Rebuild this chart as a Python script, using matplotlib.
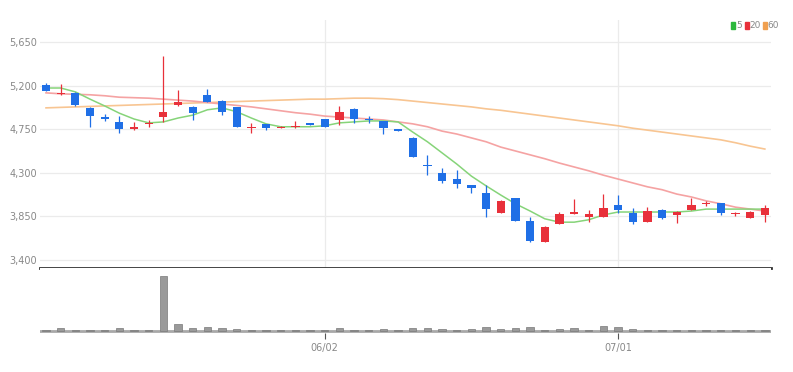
import matplotlib
matplotlib.use("Agg")
import matplotlib.pyplot as plt
import matplotlib.patches as mpatches
import numpy as np

# 일봉 (시가, 고가, 저가, 종가)
opens = [5205, 5110, 5125, 4970, 4880, 4825, 4750, 4805, 4875, 4995,
         4980, 5105, 5045, 4975, 4760, 4800, 4760, 4770, 4810, 4850,
         4845, 4960, 4850, 4835, 4750, 4655, 4375, 4295, 4235, 4175,
         4095, 3885, 4035, 3805, 3590, 3770, 3870, 3840, 3845, 3970,
         3885, 3795, 3915, 3860, 3915, 3980, 3985, 3875, 3830, 3865]
highs = [5225, 5215, 5135, 4980, 4905, 4890, 4825, 4845, 5505, 5155,
         4990, 5160, 5050, 4980, 4815, 4805, 4785, 4835, 4815, 4855,
         4985, 4970, 4890, 4835, 4750, 4670, 4485, 4350, 4330, 4175,
         4175, 4020, 4040, 3845, 3750, 3890, 4025, 3915, 4080, 4070,
         3935, 3950, 3925, 3905, 4035, 4010, 3990, 3900, 3905, 3970]
lows = [5140, 5100, 4990, 4775, 4835, 4710, 4745, 4775, 4825, 4990,
        4845, 5030, 4895, 4775, 4710, 4745, 4760, 4760, 4795, 4775,
        4795, 4815, 4810, 4700, 4730, 4465, 4275, 4190, 4145, 4090,
        3845, 3880, 3800, 3590, 3585, 3770, 3870, 3795, 3845, 3885,
        3770, 3790, 3825, 3780, 3915, 3960, 3865, 3855, 3830, 3795]
closes = [5145, 5125, 5000, 4885, 4855, 4750, 4775, 4815, 4930, 5035,
          4915, 5035, 4925, 4775, 4775, 4760, 4775, 4785, 4795, 4775,
          4930, 4855, 4845, 4760, 4735, 4465, 4365, 4215, 4180, 4145,
          3925, 4010, 3805, 3595, 3740, 3870, 3900, 3870, 3935, 3915,
          3795, 3905, 3830, 3900, 3970, 3990, 3885, 3885, 3900, 3935]
volumes = [75, 125, 75, 60, 60, 125, 60, 75, 2750, 350,
           125, 200, 125, 100, 60, 60, 60, 60, 60, 60,
           125, 60, 60, 100, 60, 125, 125, 100, 60, 100,
           200, 85, 125, 175, 60, 85, 125, 60, 250, 175,
           100, 60, 60, 60, 60, 60, 60, 30, 30, 60]

# 이동평균선
ma5 = [5175, 5175, 5135, 5060, 4990, 4915, 4855, 4815, 4825, 4865,
       4895, 4950, 4970, 4930, 4865, 4805, 4775, 4775, 4775, 4785,
       4815, 4825, 4835, 4835, 4825, 4720, 4620, 4505, 4390, 4265,
       4165, 4070, 3980, 3905, 3825, 3790, 3790, 3815, 3865, 3895,
       3895, 3895, 3895, 3895, 3905, 3925, 3925, 3925, 3925, 3925]
ma20 = [5125, 5115, 5110, 5105, 5095, 5080, 5075, 5070, 5060, 5050,
        5040, 5025, 5010, 4995, 4980, 4960, 4940, 4920, 4905, 4885,
        4875, 4865, 4855, 4845, 4825, 4805, 4775, 4730, 4700, 4660,
        4620, 4565, 4525, 4485, 4445, 4400, 4360, 4320, 4275, 4235,
        4195, 4155, 4125, 4080, 4050, 4010, 3980, 3945, 3925, 3905]
ma60 = [4970, 4975, 4980, 4985, 4990, 4995, 5000, 5005, 5010, 5015,
        5020, 5025, 5030, 5035, 5040, 5045, 5050, 5055, 5060, 5060,
        5065, 5070, 5070, 5065, 5055, 5040, 5025, 5010, 4995, 4980,
        4960, 4945, 4925, 4905, 4885, 4865, 4845, 4825, 4805, 4785,
        4760, 4740, 4720, 4700, 4680, 4660, 4640, 4610, 4575, 4545]

tick_pos = [19, 39]
tick_labels = ["06/02", "07/01"]
y_ticks = [3400, 3850, 4300, 4750, 5200, 5650]

RED = "#e8303a"
BLUE = "#1f6fe6"
FONT = ["Liberation Sans Narrow", "DejaVu Sans"]

W, H = 793, 372
fig = plt.figure(figsize=(W / 100, H / 100), dpi=100)
ax = fig.add_axes([40 / W, 1 - 268 / H, 731 / W, 248 / H])
axv = fig.add_axes([40 / W, 1 - 333 / H, 731 / W, 65 / H], sharex=ax)

x = np.arange(len(opens))
o = np.array(opens); c = np.array(closes)
up = c >= o
colors = np.where(up, RED, BLUE)

# 격자
for yv in y_ticks:
    ax.axhline(yv, color="#ebebeb", lw=0.9, zorder=0)
for t in tick_pos:
    ax.axvline(t, color="#ebebeb", lw=0.9, zorder=0)

ax.plot(x, ma60, color="#f8c592", lw=1.2, zorder=1)
ax.plot(x, ma20, color="#f5a3a3", lw=1.2, zorder=1)
ax.plot(x, ma5, color="#86d479", lw=1.1, zorder=1)

ax.vlines(x, lows, highs, colors=colors, lw=0.9, zorder=2)
body = np.maximum(np.abs(c - o), 12)
bottom = np.minimum(o, c)
ax.bar(x, body, bottom=bottom, width=0.56, color=colors, zorder=3)

ax.set_xlim(-0.41, 49.42)
ax.set_ylim(3317, 5877)
ax.set_yticks(y_ticks)
ax.set_yticklabels([f"{v:,}" for v in y_ticks], family=FONT, fontsize=7, color="#888888")
ax.tick_params(axis="y", length=0, pad=2)
ax.tick_params(axis="x", length=0, labelbottom=False)
for s in ["top", "right", "left"]:
    ax.spines[s].set_visible(False)
ax.spines["bottom"].set_color("#333333")
ax.spines["bottom"].set_linewidth(2)

# 거래량
axv.bar(x, volumes, width=0.5, color="#9a9a9a", edgecolor="#7a7a7a", lw=0.5, zorder=2)
axv.axhline(0, color="#a8a8a8", lw=2, zorder=1)
axv.set_ylim(-99, 3133)
axv.set_yticks([])
for s in ["top", "right", "left", "bottom"]:
    axv.spines[s].set_visible(False)
axv.set_xticks(tick_pos)
axv.set_xticklabels(tick_labels, family=FONT, fontsize=7, color="#888888")
axv.tick_params(axis="x", length=4, width=0.8, color="#555555", pad=3)

# 범례
items = [("5", "#2db83d"), ("20", "#e8303a"), ("60", "#f0a050")]
px = 731
for lab, col in items:
    fig.patches.append(mpatches.Rectangle((px / W, 1 - 29 / H), 4 / W, 7 / H,
                                          transform=fig.transFigure, color=col))
    fig.text((px + 5) / W, 1 - 25.5 / H, lab, family=FONT, fontsize=6.5,
             color="#888888", va="center", ha="left")
    px += 5 + 4.5 * len(lab) + 4

fig.savefig("out.png", dpi=100)
